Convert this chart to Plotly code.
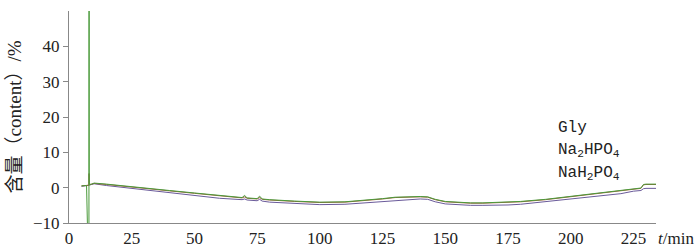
import plotly.graph_objects as go

t = [5, 7, 7.95, 8, 8.05, 9, 10, 15, 20, 25, 30, 40, 50, 60, 69, 70, 71, 75, 76, 77, 80, 90,
     100, 110, 120, 125, 130, 135, 140, 143, 146, 150, 155, 160, 165, 170, 175, 180, 190,
     200, 210, 220, 225, 228, 229, 230, 234]

gly = [0.5, 0.6, -30, 200, 0.9, 1.0, 1.3, 1.0, 0.6, 0.3, -0.1, -0.8, -1.5, -2.2, -2.8, -2.2, -2.9,
       -3.1, -2.4, -3.2, -3.4, -3.8, -4.1, -4.0, -3.5, -3.1, -2.7, -2.5, -2.5, -2.6, -3.3,
       -3.9, -4.2, -4.3, -4.3, -4.2, -4.1, -3.9, -3.3, -2.5, -1.7, -0.9, -0.4, -0.1, 0.9, 1.0, 1.0]

na2hpo4 = [0.5, 0.6, 0.7, 4.0, 0.8, 1.0, 1.2, 0.9, 0.5, 0.2, -0.2, -0.9, -1.6, -2.3, -2.9, -2.6, -3.0,
           -3.2, -2.8, -3.3, -3.5, -3.9, -4.2, -4.1, -3.6, -3.2, -2.8, -2.6, -2.6, -2.7, -3.4,
           -4.0, -4.3, -4.4, -4.4, -4.3, -4.2, -4.0, -3.4, -2.6, -1.8, -1.0, -0.5, -0.2, 0.8, 0.9, 0.9]

nah2po4 = [0.4, 0.5, 0.6, 0.7, 0.7, 0.9, 1.1, 0.6, 0.2, -0.2, -0.6, -1.5, -2.3, -3.0, -3.4, -3.2, -3.5,
           -3.7, -3.3, -3.8, -4.1, -4.5, -4.8, -4.7, -4.2, -3.9, -3.5, -3.3, -3.2, -3.3, -4.0,
           -4.6, -4.9, -5.0, -5.0, -5.0, -4.9, -4.7, -4.0, -3.2, -2.5, -1.7, -1.0, -0.8, -0.3, -0.2, -0.2]

series_names = ["Gly", "Na<sub>2</sub>HPO<sub>4</sub>", "NaH<sub>2</sub>PO<sub>4</sub>"]
colors = ["#4a9a3a", "#a0603a", "#6a5a9a"]

x_ticks = [0, 25, 50, 75, 100, 125, 150, 175, 200, 225]
y_ticks = [-10, 0, 10, 20, 30, 40]

fig = go.Figure()
for ys, c in zip([nah2po4, na2hpo4, gly], [colors[2], colors[1], colors[0]]):
    fig.add_trace(go.Scatter(x=t, y=ys, mode="lines", line=dict(color=c, width=1), showlegend=False))

serif = "Liberation Serif, Noto Sans CJK SC"
fig.update_layout(
    width=700, height=248,
    margin=dict(l=69, r=44, t=11, b=25, autoexpand=False),
    paper_bgcolor="white", plot_bgcolor="white",
    xaxis=dict(range=[0, 234], tickvals=x_ticks, showgrid=False, zeroline=False, automargin=False,
               showline=True, linecolor="#888", linewidth=1, ticks="",
               tickfont=dict(family=serif, size=17, color="#222")),
    yaxis=dict(range=[-10, 50], tickvals=y_ticks, showgrid=False, zeroline=False, automargin=False,
               showline=True, linecolor="#888", linewidth=1, ticks="outside", ticklen=5,
               tickcolor="#888",
               tickfont=dict(family=serif, size=17, color="#222"),
               title=dict(text="含量（content）/%", font=dict(family=serif, size=19, color="#222"),
                          standoff=6)),
)

fig.add_annotation(xref="paper", yref="paper", x=1, y=0, xanchor="left", yanchor="top",
                   yshift=-4, xshift=0, showarrow=False,
                   text="<i>t</i>/min", font=dict(family=serif, size=17, color="#222"))

legend_y = [128, 150, 173]
for name, py in zip(series_names, legend_y):
    fig.add_annotation(xref="paper", yref="paper", x=(556 - 69) / 587, y=(223 - py) / 212,
                       xanchor="left", yanchor="middle", showarrow=False, align="left",
                       text=name, font=dict(family="Liberation Mono", size=16, color="#222"))

fig.write_html("out.html", config={"displayModeBar": False},
               post_script="document.body.style.margin='0';document.body.style.overflow='hidden';")
